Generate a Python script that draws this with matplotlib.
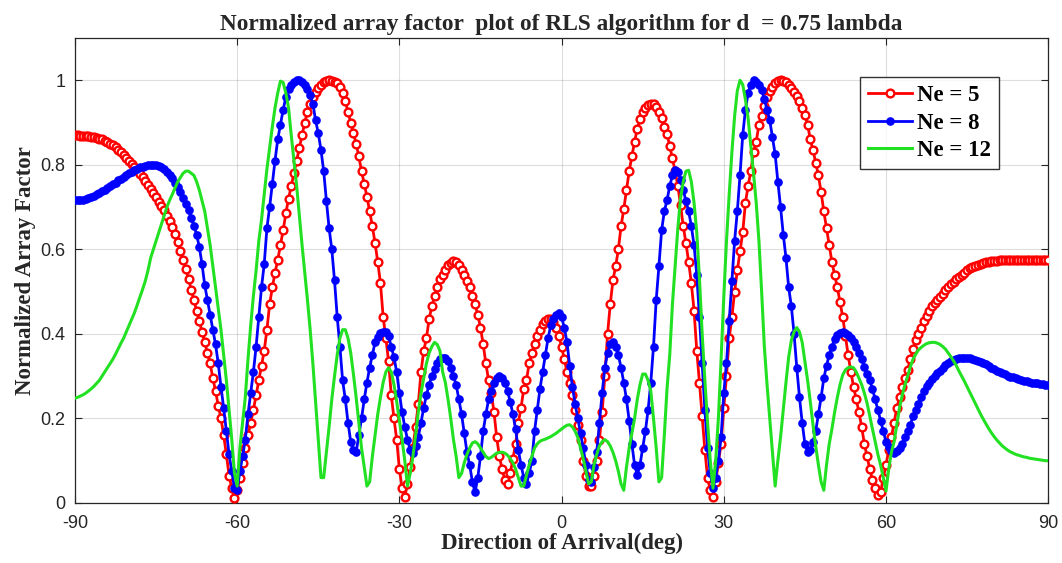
import numpy as np
import matplotlib
matplotlib.use("Agg")
import matplotlib.pyplot as plt
from matplotlib.ticker import FixedLocator

# Direction of arrival samples (deg), 0.5 deg step
angles = np.arange(-90, 90.25, 0.5)

ne5 = [
    0.870,0.870,0.869,0.869,0.868,0.867,0.866,0.865,0.864,0.862,
    0.860,0.857,0.854,0.850,0.846,0.841,0.836,0.830,0.824,0.817,
    0.810,0.802,0.795,0.787,0.779,0.770,0.761,0.752,0.743,0.733,
    0.723,0.713,0.703,0.692,0.680,0.667,0.652,0.636,0.618,0.597,
    0.575,0.553,0.530,0.505,0.480,0.455,0.430,0.405,0.380,0.355,
    0.330,0.295,0.265,0.230,0.200,0.160,0.115,0.065,0.035,0.012,
    0.030,0.060,0.095,0.130,0.160,0.190,0.220,0.255,0.290,0.325,
    0.360,0.410,0.470,0.510,0.545,0.575,0.610,0.645,0.685,0.720,
    0.750,0.780,0.810,0.840,0.870,0.900,0.925,0.945,0.960,0.972,
    0.982,0.989,0.995,0.998,1.000,0.999,0.997,0.993,0.985,0.970,
    0.950,0.925,0.900,0.875,0.850,0.820,0.785,0.755,0.725,0.690,
    0.655,0.615,0.570,0.520,0.440,0.390,0.335,0.255,0.200,0.150,
    0.080,0.035,0.015,0.045,0.085,0.130,0.180,0.235,0.310,0.360,
    0.390,0.435,0.465,0.490,0.510,0.530,0.540,0.552,0.562,0.568,
    0.572,0.570,0.562,0.552,0.540,0.525,0.510,0.490,0.470,0.445,
    0.415,0.375,0.330,0.290,0.260,0.215,0.155,0.110,0.080,0.055,
    0.045,0.070,0.105,0.140,0.190,0.225,0.270,0.290,0.330,0.355,
    0.375,0.395,0.410,0.423,0.430,0.435,0.435,0.428,0.415,0.395,
    0.370,0.340,0.310,0.285,0.255,0.220,0.185,0.150,0.100,0.065,
    0.040,0.040,0.065,0.100,0.150,0.215,0.300,0.400,0.470,0.527,
    0.560,0.600,0.655,0.695,0.740,0.785,0.820,0.855,0.885,0.908,
    0.925,0.935,0.942,0.945,0.944,0.937,0.925,0.910,0.890,0.872,
    0.845,0.815,0.785,0.750,0.705,0.655,0.615,0.570,0.520,0.455,
    0.360,0.285,0.205,0.125,0.060,0.030,0.015,0.050,0.095,0.140,
    0.225,0.300,0.390,0.440,0.500,0.550,0.595,0.640,0.710,0.750,
    0.785,0.830,0.855,0.895,0.915,0.940,0.960,0.974,0.985,0.993,
    0.998,1.000,0.999,0.995,0.990,0.982,0.972,0.962,0.950,0.935,
    0.918,0.895,0.860,0.835,0.805,0.775,0.735,0.690,0.650,0.610,
    0.570,0.540,0.510,0.475,0.440,0.395,0.350,0.310,0.275,0.245,
    0.215,0.180,0.140,0.110,0.080,0.055,0.035,0.018,0.025,0.060,
    0.090,0.125,0.155,0.190,0.225,0.250,0.275,0.295,0.315,0.340,
    0.365,0.385,0.400,0.415,0.430,0.443,0.455,0.465,0.473,0.480,
    0.488,0.495,0.503,0.510,0.517,0.523,0.529,0.535,0.540,0.545,
    0.550,0.555,0.558,0.561,0.564,0.566,0.568,0.570,0.571,0.572,
    0.573,0.573,0.574,0.574,0.574,0.574,0.574,0.574,0.574,0.574,
    0.574,0.574,0.574,0.574,0.574,0.574,0.574,0.574,0.574,0.574,
    0.574,
]

ne8 = [
    0.716,0.716,0.716,0.717,0.719,0.721,0.724,0.727,0.730,0.733,
    0.737,0.741,0.745,0.750,0.754,0.758,0.763,0.767,0.772,0.776,
    0.780,0.784,0.788,0.791,0.794,0.796,0.798,0.799,0.800,0.800,
    0.799,0.797,0.794,0.789,0.783,0.776,0.768,0.758,0.747,0.735,
    0.722,0.708,0.692,0.675,0.656,0.635,0.605,0.565,0.515,0.480,
    0.445,0.410,0.375,0.330,0.275,0.225,0.170,0.115,0.075,0.035,
    0.030,0.075,0.110,0.150,0.210,0.260,0.310,0.370,0.440,0.510,
    0.565,0.650,0.700,0.755,0.810,0.860,0.895,0.930,0.960,0.980,
    0.990,0.997,1.000,1.000,0.995,0.990,0.980,0.965,0.945,0.905,
    0.875,0.835,0.785,0.715,0.650,0.600,0.527,0.440,0.370,0.290,
    0.245,0.190,0.145,0.125,0.120,0.160,0.200,0.245,0.285,0.320,
    0.350,0.380,0.393,0.402,0.405,0.404,0.395,0.370,0.345,0.310,
    0.260,0.215,0.180,0.150,0.125,0.118,0.135,0.156,0.190,0.225,
    0.255,0.280,0.300,0.318,0.330,0.340,0.343,0.343,0.335,0.320,
    0.300,0.280,0.245,0.210,0.165,0.120,0.090,0.050,0.025,0.060,
    0.110,0.170,0.210,0.245,0.265,0.285,0.295,0.300,0.295,0.285,
    0.265,0.240,0.210,0.175,0.125,0.090,0.060,0.045,0.070,0.100,
    0.170,0.220,0.270,0.310,0.350,0.390,0.420,0.435,0.445,0.450,
    0.440,0.415,0.380,0.325,0.275,0.235,0.200,0.165,0.130,0.090,
    0.055,0.050,0.085,0.120,0.190,0.260,0.320,0.355,0.375,0.380,
    0.370,0.350,0.320,0.285,0.245,0.195,0.140,0.090,0.066,0.090,
    0.130,0.170,0.220,0.285,0.370,0.480,0.560,0.645,0.690,0.716,
    0.750,0.775,0.787,0.782,0.765,0.740,0.715,0.690,0.655,0.610,
    0.540,0.440,0.330,0.220,0.130,0.070,0.035,0.060,0.100,0.155,
    0.260,0.330,0.430,0.525,0.620,0.690,0.775,0.870,0.930,0.970,
    0.990,1.000,0.997,0.990,0.978,0.955,0.930,0.905,0.865,0.825,
    0.760,0.700,0.635,0.580,0.510,0.465,0.400,0.320,0.250,0.190,
    0.140,0.120,0.125,0.145,0.170,0.210,0.250,0.295,0.325,0.350,
    0.370,0.388,0.398,0.403,0.405,0.402,0.397,0.390,0.382,0.370,
    0.355,0.340,0.322,0.305,0.290,0.270,0.245,0.220,0.195,0.170,
    0.145,0.132,0.122,0.118,0.122,0.130,0.140,0.155,0.170,0.185,
    0.205,0.220,0.235,0.250,0.265,0.277,0.285,0.293,0.300,0.307,
    0.313,0.319,0.326,0.331,0.335,0.338,0.341,0.343,0.344,0.344,
    0.344,0.343,0.341,0.339,0.337,0.334,0.331,0.328,0.324,0.320,
    0.316,0.313,0.310,0.307,0.304,0.301,0.299,0.297,0.295,0.293,
    0.291,0.289,0.288,0.286,0.285,0.284,0.283,0.282,0.281,0.280,
    0.280,
]

ne12 = [
    0.248,0.250,0.253,0.256,0.260,0.265,0.270,0.276,0.283,0.290,
    0.300,0.310,0.320,0.330,0.340,0.352,0.365,0.378,0.390,0.405,
    0.420,0.435,0.450,0.468,0.487,0.505,0.525,0.550,0.580,0.600,
    0.620,0.640,0.660,0.680,0.700,0.716,0.730,0.745,0.760,0.770,
    0.780,0.785,0.785,0.780,0.775,0.760,0.740,0.715,0.690,0.650,
    0.610,0.560,0.510,0.460,0.410,0.350,0.290,0.220,0.150,0.070,
    0.040,0.130,0.190,0.250,0.340,0.420,0.490,0.550,0.620,0.670,
    0.730,0.790,0.840,0.890,0.935,0.970,0.998,0.995,0.970,0.935,
    0.870,0.810,0.750,0.680,0.610,0.545,0.480,0.410,0.330,0.240,
    0.150,0.060,0.060,0.120,0.180,0.245,0.300,0.350,0.390,0.410,
    0.410,0.390,0.355,0.305,0.250,0.190,0.130,0.085,0.040,0.050,
    0.110,0.160,0.210,0.250,0.285,0.310,0.320,0.310,0.280,0.240,
    0.195,0.150,0.100,0.040,0.070,0.110,0.160,0.215,0.260,0.295,
    0.330,0.355,0.370,0.380,0.375,0.360,0.310,0.285,0.245,0.200,
    0.150,0.110,0.060,0.070,0.095,0.115,0.130,0.142,0.145,0.140,
    0.130,0.120,0.110,0.105,0.108,0.113,0.118,0.120,0.120,0.118,
    0.113,0.105,0.095,0.080,0.060,0.040,0.040,0.065,0.090,0.110,
    0.130,0.140,0.146,0.149,0.151,0.154,0.157,0.161,0.165,0.170,
    0.175,0.180,0.184,0.185,0.180,0.170,0.155,0.130,0.105,0.075,
    0.045,0.050,0.090,0.115,0.135,0.145,0.150,0.145,0.135,0.120,
    0.100,0.075,0.045,0.030,0.085,0.130,0.165,0.200,0.245,0.280,
    0.305,0.305,0.290,0.265,0.200,0.130,0.050,0.060,0.160,0.270,
    0.350,0.470,0.560,0.650,0.720,0.760,0.785,0.787,0.760,0.710,
    0.640,0.530,0.400,0.290,0.190,0.100,0.035,0.100,0.200,0.340,
    0.487,0.620,0.730,0.830,0.915,0.975,1.000,0.990,0.955,0.910,
    0.845,0.780,0.710,0.620,0.500,0.370,0.280,0.200,0.118,0.040,
    0.100,0.156,0.220,0.285,0.345,0.385,0.405,0.415,0.405,0.380,
    0.335,0.290,0.240,0.185,0.135,0.090,0.050,0.030,0.090,0.140,
    0.175,0.215,0.250,0.280,0.303,0.315,0.320,0.322,0.320,0.310,
    0.295,0.280,0.260,0.236,0.205,0.175,0.145,0.115,0.090,0.060,
    0.028,0.080,0.120,0.145,0.185,0.225,0.255,0.280,0.300,0.322,
    0.340,0.352,0.362,0.368,0.373,0.377,0.379,0.380,0.380,0.378,
    0.375,0.370,0.364,0.355,0.346,0.336,0.325,0.312,0.300,0.288,
    0.275,0.262,0.249,0.236,0.223,0.210,0.198,0.187,0.176,0.166,
    0.157,0.149,0.142,0.135,0.130,0.125,0.121,0.118,0.115,0.113,
    0.111,0.109,0.108,0.106,0.105,0.104,0.103,0.102,0.101,0.100,
    0.100,
]

series_labels = ["Ne = 5", "Ne = 8", "Ne = 12"]
x_ticks = [-90, -60, -30, 0, 30, 60, 90]
y_ticks = [0, 0.2, 0.4, 0.6, 0.8, 1.0]
y_tick_labels = ["0", "0.2", "0.4", "0.6", "0.8", "1"]

title_text = "Normalized array factor  plot of RLS algorithm for d  = 0.75 lambda"
x_label = "Direction of Arrival(deg)"
y_label = "Normalized Array Factor"

serif = ["Liberation Serif", "DejaVu Serif"]
sans = ["Liberation Sans", "DejaVu Sans"]
dark = "#262626"

fig = plt.figure(figsize=(10.62, 5.63), dpi=100)
ax = fig.add_axes([0.0706, 0.1066, 0.9164, 0.8259])

ax.plot(angles, ne5, color="#ff0000", lw=2.0, marker="o", markersize=5.6,
        markerfacecolor="white", markeredgecolor="#ff0000", markeredgewidth=1.7,
        label=series_labels[0], zorder=3)
ax.plot(angles, ne8, color="#0000ff", lw=2.0, marker="o", markersize=5.2,
        markerfacecolor="#0000ff", markeredgecolor="#0000ff",
        label=series_labels[1], zorder=4)
ax.plot(angles, ne12, color="#22e022", lw=2.2, label=series_labels[2], zorder=5)

ax.set_xlim(-90, 90)
ax.set_ylim(0, 1.1)
ax.xaxis.set_major_locator(FixedLocator(x_ticks))
ax.yaxis.set_major_locator(FixedLocator(y_ticks))
ax.set_xticklabels([str(t) for t in x_ticks], fontfamily=sans, fontsize=13, color=dark)
ax.set_yticklabels(y_tick_labels, fontfamily=sans, fontsize=13, color=dark)
ax.tick_params(direction="in", length=5, width=0.8, colors=dark,
               top=True, right=True)
ax.tick_params(axis="x", pad=9)
ax.tick_params(axis="y", pad=7)
ax.grid(True, color="#262626", alpha=0.15, lw=0.8)
ax.set_axisbelow(True)
for s in ax.spines.values():
    s.set_color(dark)
    s.set_linewidth(0.9)

ax.set_title(title_text, fontfamily=serif, fontweight="bold", fontsize=16.8,
             color=dark, pad=6)
ax.set_xlabel(x_label, fontfamily=serif, fontweight="bold", fontsize=16.5,
              color=dark, labelpad=0)
ax.set_ylabel(y_label, fontfamily=serif, fontweight="bold", fontsize=16.5,
              color=dark, labelpad=3)

leg = ax.legend(loc="upper left", bbox_to_anchor=(0.807, 0.916),
                prop={"family": serif, "weight": "bold", "size": 16.5},
                frameon=True, fancybox=False, edgecolor="black",
                handlelength=1.9, handletextpad=0.2, borderpad=0.35,
                labelspacing=0.28, borderaxespad=0.0)
leg.get_frame().set_linewidth(1.0)

fig.savefig("out.png", dpi=100)
